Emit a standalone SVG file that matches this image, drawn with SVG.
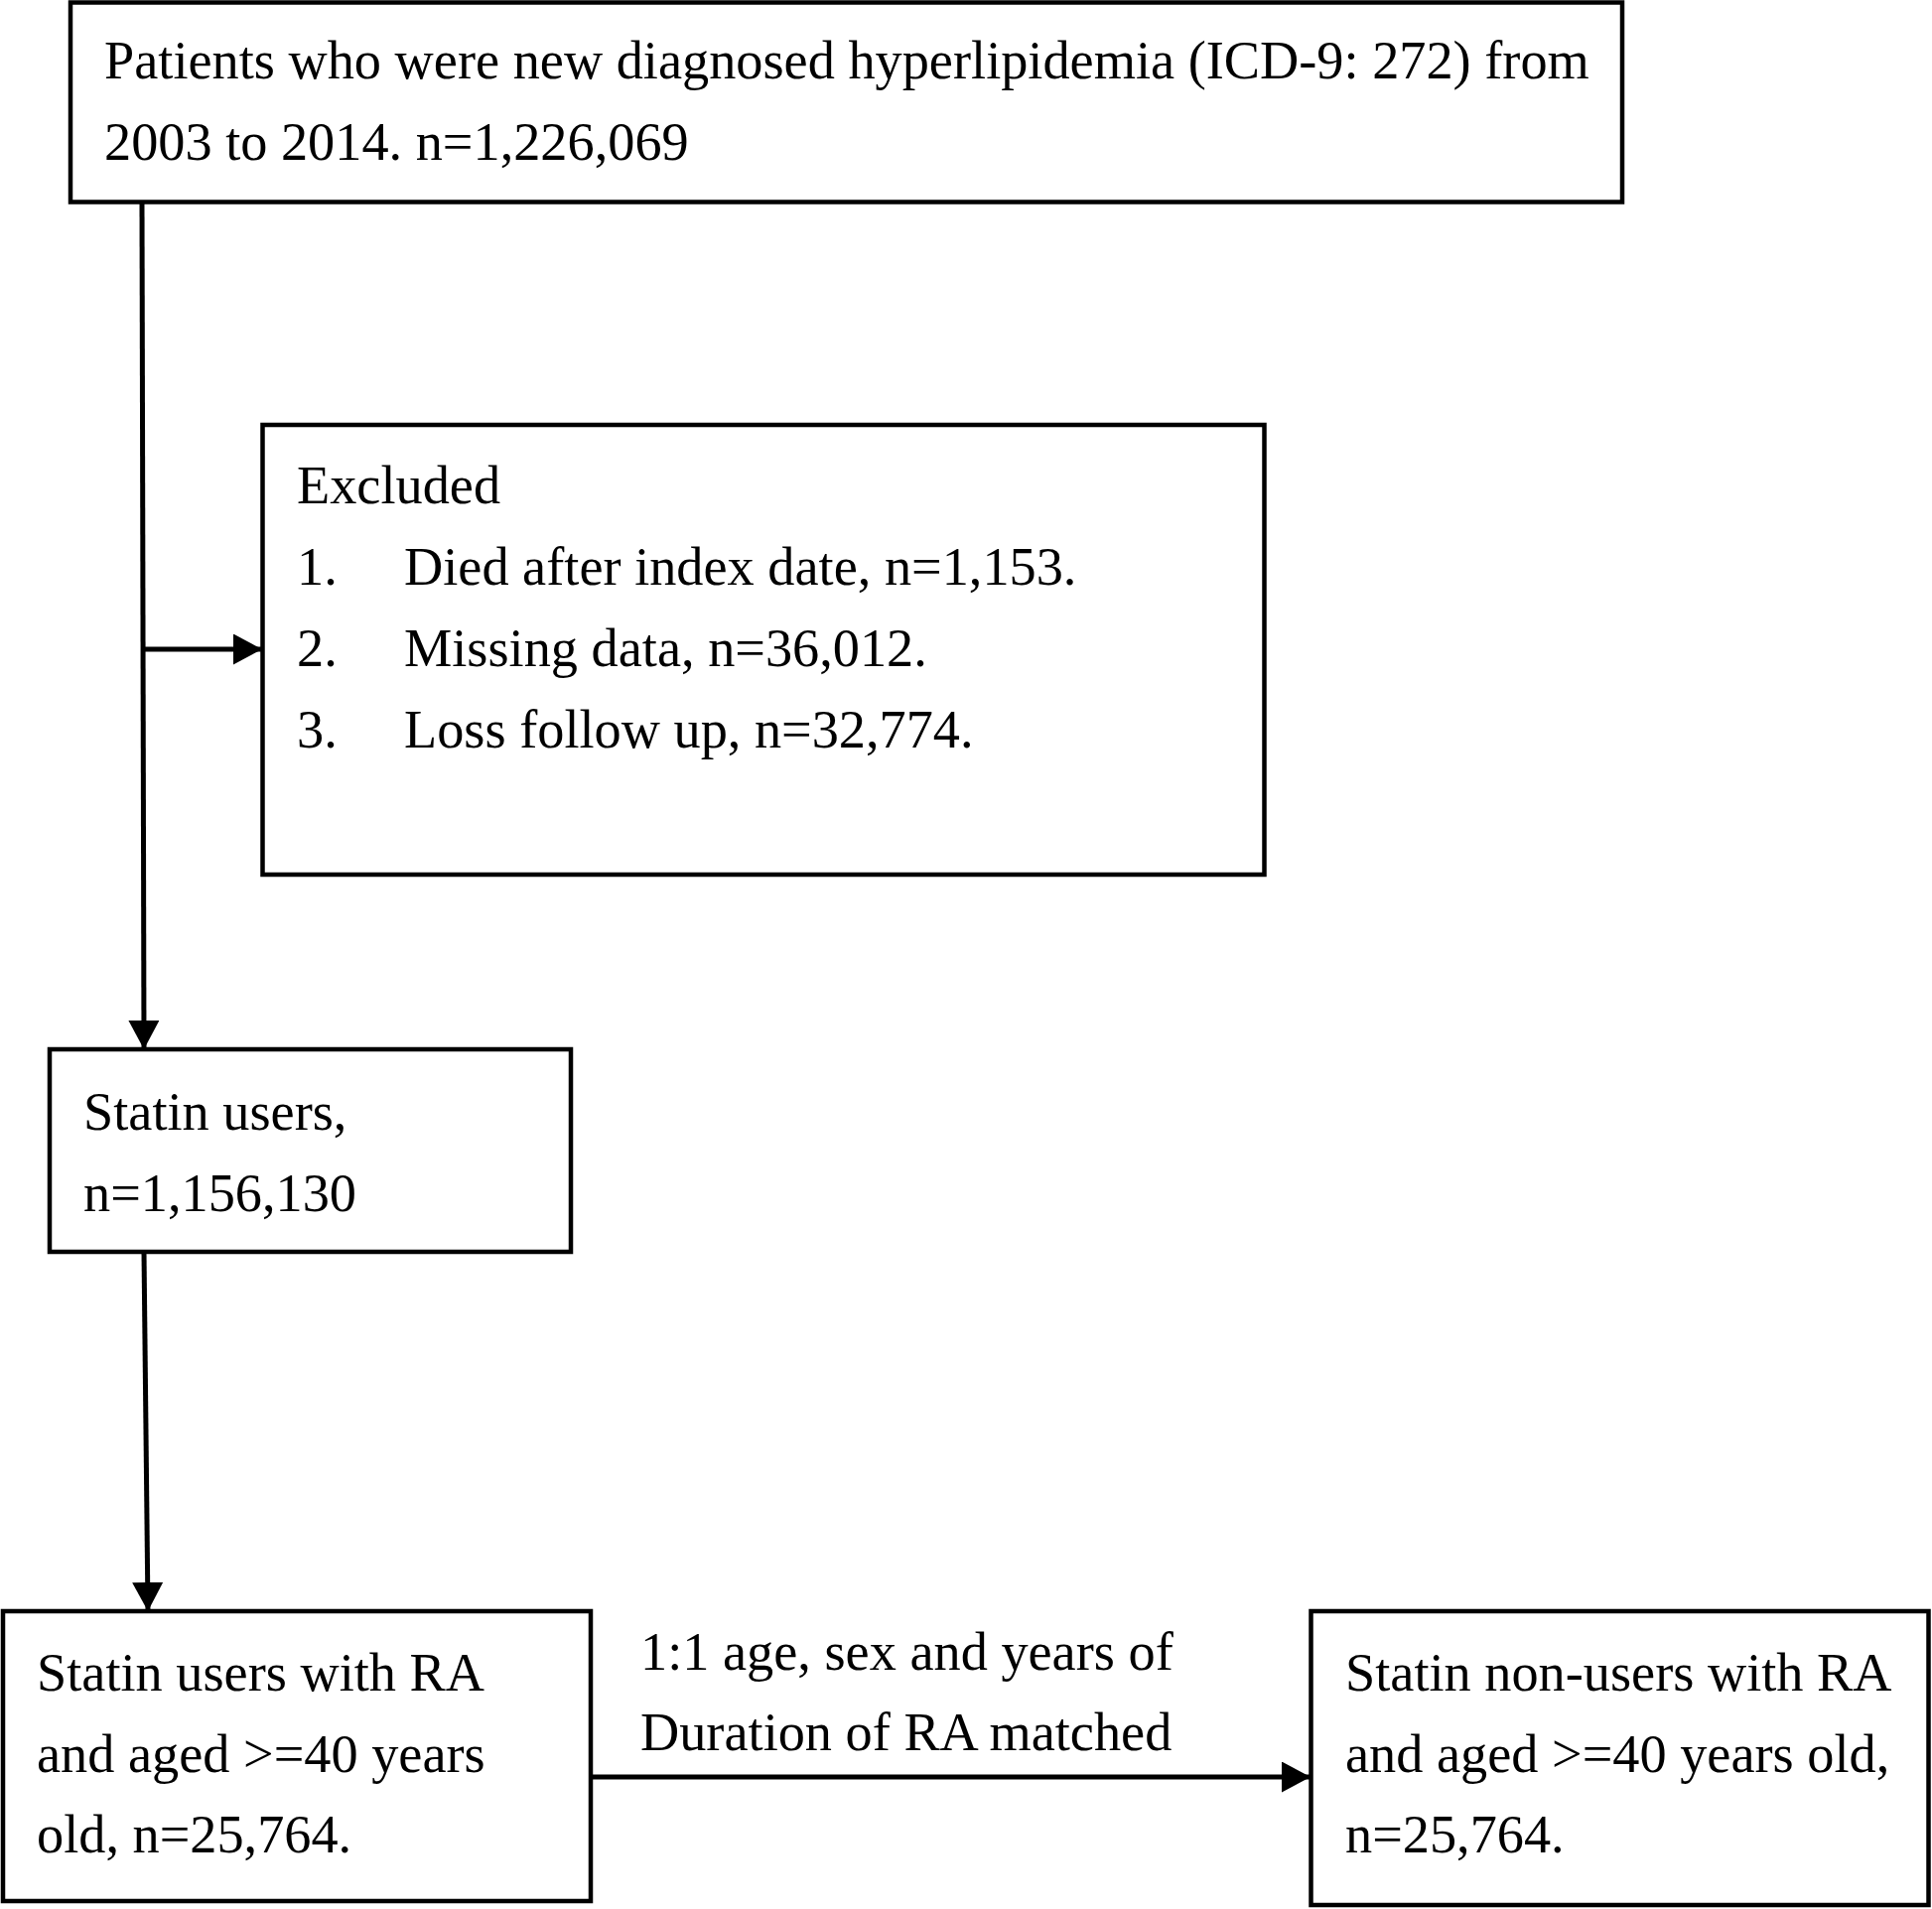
<svg xmlns="http://www.w3.org/2000/svg" width="1946" height="1923" viewBox="0 0 1946 1923">
<style>
.box{fill:#fff;stroke:#000;stroke-width:4.5}
.t{font-family:"Liberation Serif","Times New Roman",serif;font-size:54.3px;fill:#000}
.c{fill:none;stroke:#000;stroke-width:5}
</style>
<defs>
<marker id="ah" viewBox="0 0 29 31" refX="29" refY="15.5" markerWidth="29" markerHeight="31" markerUnits="userSpaceOnUse" orient="auto">
<path d="M0,0 L29,15.5 L0,31 z" fill="#000"/>
</marker>
</defs>
<rect width="1946" height="1923" fill="#fff"/>
<g id="connectors">
<path class="c" d="M143,204 L145,1057" marker-end="url(#ah)"/>
<path class="c" d="M145,654 L264,654" marker-end="url(#ah)"/>
<path class="c" d="M145,1261 L149,1623" marker-end="url(#ah)"/>
<path class="c" d="M594,1790 L1320,1790" marker-end="url(#ah)"/>
</g>
<g id="n-top">
<rect class="box" x="71" y="2.5" width="1563" height="201"/>
<text class="t" x="105" y="79">Patients who were new diagnosed hyperlipidemia (ICD-9: 272) from</text>
<text class="t" x="105" y="161">2003 to 2014. n=1,226,069</text>
</g>
<g id="n-excluded">
<rect class="box" x="264.5" y="428" width="1009" height="453"/>
<text class="t" x="299" y="507">Excluded</text>
<text class="t" x="299" y="589">1.</text>
<text class="t" x="407" y="589">Died after index date, n=1,153.</text>
<text class="t" x="299" y="671">2.</text>
<text class="t" x="407" y="671">Missing data, n=36,012.</text>
<text class="t" x="299" y="753">3.</text>
<text class="t" x="407" y="753">Loss follow up, n=32,774.</text>
</g>
<g id="n-statin">
<rect class="box" x="50" y="1057" width="525" height="204"/>
<text class="t" x="84" y="1138">Statin users,</text>
<text class="t" x="84" y="1220">n=1,156,130</text>
</g>
<g id="n-users-ra">
<rect class="box" x="3" y="1623" width="592" height="292"/>
<text class="t" x="37" y="1703">Statin users with RA</text>
<text class="t" x="37" y="1785">and aged &gt;=40 years</text>
<text class="t" x="37" y="1866">old, n=25,764.</text>
</g>
<g id="label-match">
<text class="t" x="645" y="1682">1:1 age, sex and years of</text>
<text class="t" x="645" y="1763">Duration of RA matched</text>
</g>
<g id="n-nonusers-ra">
<rect class="box" x="1320.5" y="1623" width="622" height="296"/>
<text class="t" x="1355" y="1703">Statin non-users with RA</text>
<text class="t" x="1355" y="1785">and aged &gt;=40 years old,</text>
<text class="t" x="1355" y="1866">n=25,764.</text>
</g>
</svg>
